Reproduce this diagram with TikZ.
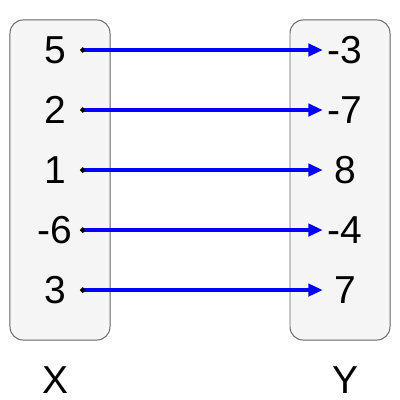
\documentclass[tikz,border=0pt]{standalone}
\usepackage{fontspec}
\setmainfont{Liberation Sans}
\usetikzlibrary{positioning, arrows.meta}
\definecolor{setfill}{HTML}{F5F5F5}
\definecolor{setline}{HTML}{666666}
\tikzset{
    x=0.025cm, y=-0.025cm, % one unit is one pixel of the picture
    every node/.style={font=\fontsize{27.7}{33}\selectfont}, % big sans serif numbers
    setbox/.style={draw=setline, fill=setfill, line width=0.7pt, rounded corners=0.33cm,
        minimum width=2.5cm, minimum height=8cm}, % the grey sets
    leftnum/.style={text width=1.25cm, align=center, inner sep=0pt}, % east side is where the arrow starts
    rightnum/.style={text width=1.1cm, align=center, inner sep=0pt}, % west side is where the arrow ends
    map/.style={draw=blue, line width=2.3pt,
        {Circle[color=black, length=3.5pt]}-{Triangle[length=0.36cm, width=0.31cm]}}, % the mapping arrows
    node distance=1.5cm, % distance between two rows
}
\begin{document}
\begin{tikzpicture}
    \useasboundingbox (0,0) rectangle (400,400);
    \node[setbox] (setX) at (60,180) {};
    \node[setbox] (setY) at (340,180) {};
    % domain
    \node[leftnum] (x1) at (55,50) {5};
    \node[leftnum, below of=x1] (x2) {2};
    \node[leftnum, below of=x2] (x3) {1};
    \node[leftnum, below of=x3] (x4) {-6};
    \node[leftnum, below of=x4] (x5) {3};
    % codomain
    \node[rightnum] (y1) at (345,50) {-3};
    \node[rightnum, below of=y1] (y2) {-7};
    \node[rightnum, below of=y2] (y3) {8};
    \node[rightnum, below of=y3] (y4) {-4};
    \node[rightnum, below of=y4] (y5) {7};
    \node (labX) at (55,380) {X};
    \node (labY) at (345,380) {Y};
    \path
    (x1.east) edge[map] (y1.west)
    (x2.east) edge[map] (y2.west)
    (x3.east) edge[map] (y3.west)
    (x4.east) edge[map] (y4.west)
    (x5.east) edge[map] (y5.west);
\end{tikzpicture}
\end{document}
